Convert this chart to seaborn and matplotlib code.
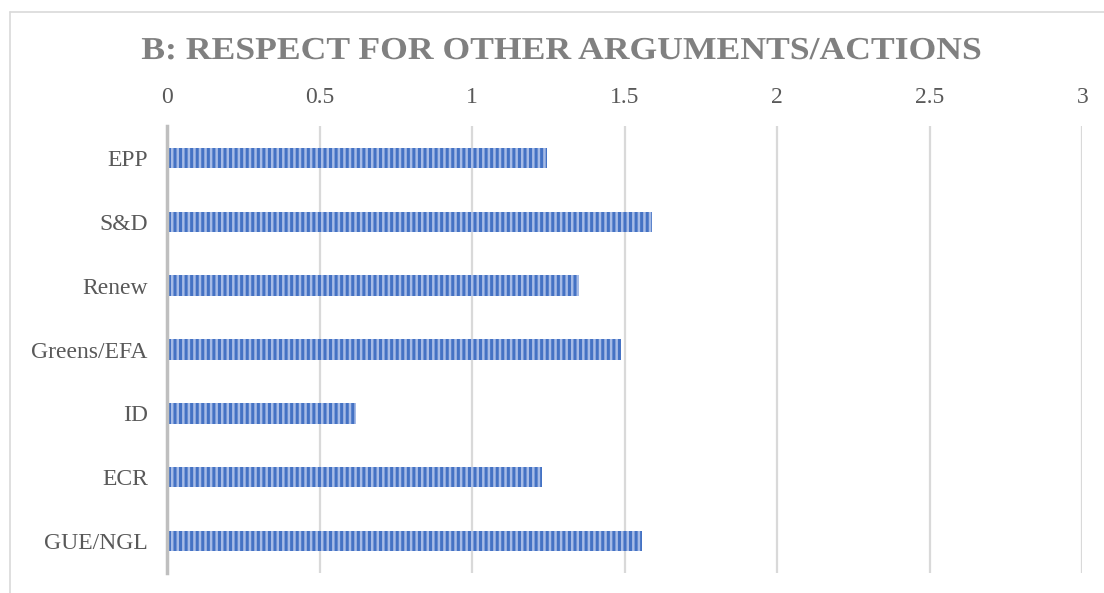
import matplotlib
matplotlib.use("Agg")
import matplotlib.pyplot as plt
import seaborn as sns
import pandas as pd
from matplotlib.lines import Line2D
from matplotlib.patheffects import AbstractPathEffect
from matplotlib.transforms import Affine2D

# Data
groups = ["EPP", "S&D", "Renew", "Greens/EFA", "ID", "ECR", "GUE/NGL"]
scores = [1.245, 1.588, 1.349, 1.486, 0.618, 1.228, 1.555]
x_ticks = [0, 0.5, 1, 1.5, 2, 2.5, 3]
x_tick_labels = ["0", "0.5", "1", "1.5", "2", "2.5", "3"]
title_text = "B: RESPECT FOR OTHER ARGUMENTS/ACTIONS"


class HStretch(AbstractPathEffect):
    """Widen text horizontally around a centre (imitates wide letter spacing)."""

    def __init__(self, sx, cx):
        super().__init__()
        self.sx = sx
        self.cx = cx

    def draw_path(self, renderer, gc, tpath, affine, rgbFace=None):
        t = affine + Affine2D().translate(-self.cx, 0).scale(self.sx, 1).translate(self.cx, 0)
        renderer.draw_path(gc, tpath, t, rgbFace)


sns.set_theme(style="white")
plt.rcParams["font.family"] = ["Liberation Serif", "DejaVu Serif"]
plt.rcParams["hatch.linewidth"] = 2.2

df = pd.DataFrame({"group": groups, "score": scores})

fig = plt.figure(figsize=(11.04, 5.93), dpi=100)
ax = fig.add_axes([167.3 / 1104, 20 / 593, 915 / 1104, 447 / 593])

sns.barplot(data=df, x="score", y="group", orient="h", width=0.32,
            color="#A6BBE6", saturation=1, ax=ax)
for p in ax.patches:
    p.set_facecolor("#A6BBE6")
    p.set_edgecolor("#4472C4")
    p.set_hatch("|||")
    p.set_linewidth(0)

ax.set_xlim(0, 3)
ax.set_ylim(6.5, -0.5)
ax.set_xticks(x_ticks)
ax.set_xticklabels(x_tick_labels)
ax.xaxis.tick_top()
ax.set_xlabel("")
ax.set_ylabel("")
ax.tick_params(axis="x", length=0, pad=13, labelsize=17, labelcolor="#595959")
ax.tick_params(axis="y", length=0, pad=14, labelsize=17, labelcolor="#595959")
ax.grid(axis="x", color="#D9D9D9", linewidth=1.6)
ax.grid(axis="y", visible=False)
ax.set_axisbelow(True)
for s in ["top", "right", "bottom"]:
    ax.spines[s].set_visible(False)
ax.spines["left"].set_color("#BFBFBF")
ax.spines["left"].set_linewidth(2.5)
ax.spines["left"].set_zorder(5)

cx_px = 562.0
fig.text(cx_px / 1104, 1 - 59.0 / 593, title_text, ha="center", va="baseline",
         fontsize=23, fontweight="bold", color="#808080",
         path_effects=[HStretch(1.115, cx_px)])

# chart border
fig.add_artist(Line2D([10 / 1104, 1.0], [1 - 11.7 / 593] * 2, color="#D9D9D9", linewidth=1.2))
fig.add_artist(Line2D([10 / 1104] * 2, [0, 1 - 11.7 / 593], color="#D9D9D9", linewidth=1.2))

fig.savefig("out.png", dpi=100)
